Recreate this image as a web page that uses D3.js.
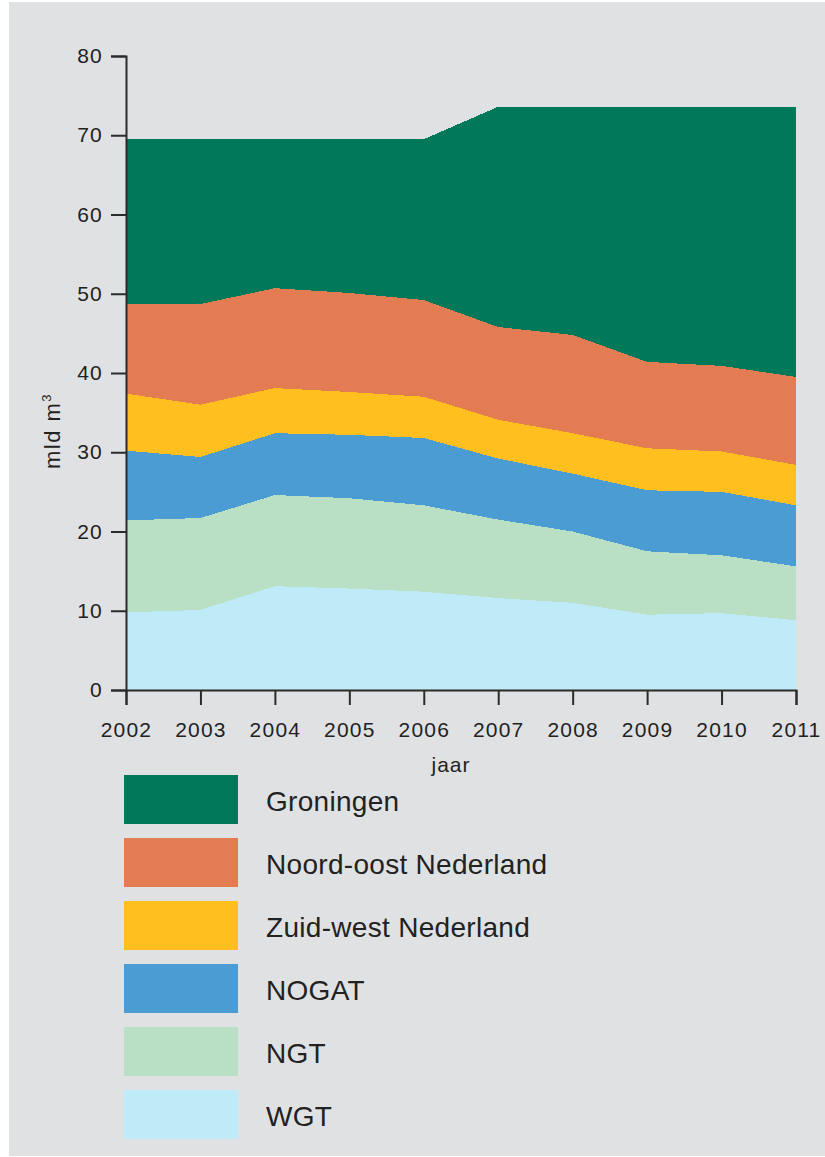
<!DOCTYPE html>
<html>
<head>
<meta charset="utf-8">
<script src="https://cdn.jsdelivr.net/npm/d3@7"></script>
<style>
  body { margin: 0; background: #fff; }
  svg { display: block; }
  text { font-family: "Liberation Sans", Arial, sans-serif; fill: #222; }
</style>
</head>
<body>
<svg id="chart" width="825" height="1157"></svg>
<script>
// jaren en reeksen (mld m3), van onder naar boven gestapeld
const years = [2002, 2003, 2004, 2005, 2006, 2007, 2008, 2009, 2010, 2011];
const wgt       = [9.8, 10.1, 13.1, 12.8, 12.4, 11.6, 11.0, 9.5, 9.7, 8.8];
const ngt       = [11.6, 11.6, 11.5, 11.4, 10.9, 9.9, 9.0, 8.0, 7.3, 6.8];
const nogat     = [8.8, 7.7, 7.8, 8.0, 8.5, 7.7, 7.3, 7.7, 8.0, 7.7];
const zuidwest  = [7.2, 6.6, 5.7, 5.4, 5.2, 4.9, 5.1, 5.3, 5.1, 5.1];
const noordoost = [11.3, 12.7, 12.6, 12.5, 12.2, 11.7, 12.4, 10.9, 10.8, 11.1];
const groningen = [20.8, 20.8, 18.8, 19.4, 20.3, 27.8, 28.8, 32.2, 32.7, 34.1];

const keys = ["wgt", "ngt", "nogat", "zuidwest", "noordoost", "groningen"];
const labels = {
  groningen: "Groningen",
  noordoost: "Noord-oost Nederland",
  zuidwest: "Zuid-west Nederland",
  nogat: "NOGAT",
  ngt: "NGT",
  wgt: "WGT"
};
const colors = {
  groningen: "#00795b",
  noordoost: "#e37b53",
  zuidwest: "#ffbf1f",
  nogat: "#4c9cd4",
  ngt: "#b9dfc5",
  wgt: "#bfeaf8"
};
const yTicks = [0, 10, 20, 30, 40, 50, 60, 70, 80];

const series = { wgt, ngt, nogat, zuidwest, noordoost, groningen };
const table = years.map((yr, i) => {
  const row = { year: yr };
  keys.forEach(k => row[k] = series[k][i]);
  return row;
});

const svg = d3.select("#chart");

// grijze achtergrond
svg.append("rect")
  .attr("x", 9).attr("y", 2)
  .attr("width", 816).attr("height", 1154)
  .attr("fill", "#e0e1e3");

const x = d3.scaleLinear().domain([2002, 2011]).range([126, 796]);
const y = d3.scaleLinear().domain([0, 80]).range([690, 56]);

const stacked = d3.stack().keys(keys)(table);

const area = d3.area()
  .x(d => x(d.data.year))
  .y0(d => y(d[0]))
  .y1(d => y(d[1]));

svg.append("g").selectAll("path")
  .data(stacked)
  .enter().append("path")
  .attr("d", area)
  .attr("fill", d => colors[d.key])
  .attr("shape-rendering", "crispEdges");

// assen
const yAxis = d3.axisLeft(y).tickValues(yTicks).tickSize(15).tickPadding(8);
const gy = svg.append("g").attr("transform", "translate(126,0)").call(yAxis);

const xAxis = d3.axisBottom(x).tickValues(years).tickFormat(d3.format("d")).tickSize(15).tickPadding(17);
const gx = svg.append("g").attr("transform", "translate(0,690)").call(xAxis);

[gx, gy].forEach(g => {
  g.selectAll("path, line").attr("stroke", "#2b2b2b").attr("stroke-width", 2);
  g.selectAll("text")
    .style("font-family", "'Liberation Sans', Arial, sans-serif")
    .style("font-size", "21px")
    .style("letter-spacing", "1.2px")
    .attr("fill", "#222");
});

svg.append("text")
  .attr("x", 451).attr("y", 772)
  .attr("text-anchor", "middle")
  .style("font-size", "21px")
  .style("letter-spacing", "1px")
  .text("jaar");

const ylab = svg.append("text")
  .attr("transform", "translate(60,431) rotate(-90)")
  .attr("text-anchor", "middle")
  .style("font-size", "22px")
  .style("letter-spacing", "1.5px");
ylab.append("tspan").text("mld m");
ylab.append("tspan").attr("dy", -9).style("font-size", "13px").text("3");

// legenda
const legendKeys = keys.slice().reverse();
const legend = svg.append("g").selectAll("g")
  .data(legendKeys)
  .enter().append("g")
  .attr("transform", (d, i) => "translate(124," + (775 + i * 63) + ")");

legend.append("rect")
  .attr("width", 114).attr("height", 49)
  .attr("fill", d => colors[d]);

legend.append("text")
  .attr("x", 142).attr("y", 24.5).attr("dy", "0.42em")
  .style("font-size", "28px")
  .style("letter-spacing", "0.3px")
  .text(d => labels[d]);
</script>
</body>
</html>
